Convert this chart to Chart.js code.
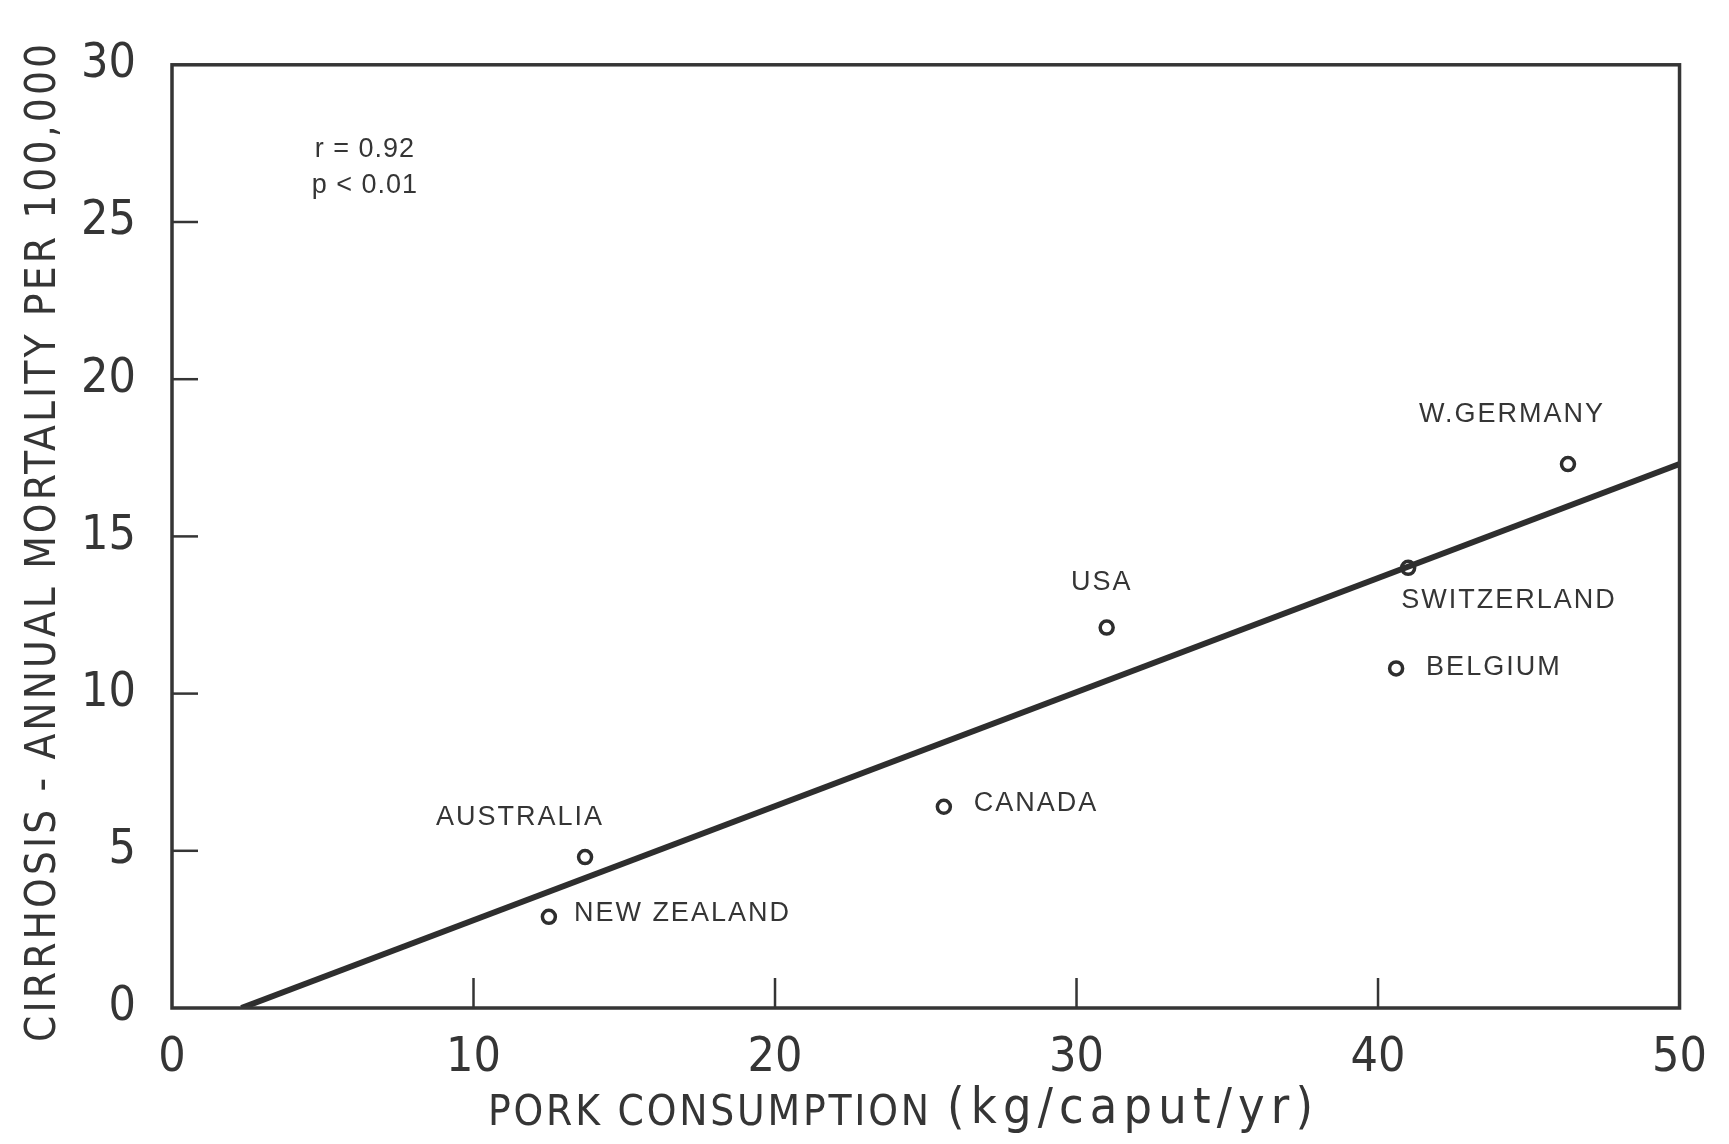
<!DOCTYPE html>
<html>
<head>
<meta charset="utf-8">
<script src="https://cdn.jsdelivr.net/npm/chart.js@4.4.1/dist/chart.umd.min.js"></script>
<style>
    html, body { margin: 0; padding: 0; background: #fff; }
    #wrap { width: 1729px; height: 1144px; }
</style>
</head>
<body>
<div id="wrap"><canvas id="porkChart"></canvas></div>
<script>
const countries = ["AUSTRALIA", "NEW ZEALAND", "CANADA", "USA", "SWITZERLAND", "BELGIUM", "W.GERMANY"];
const porkKg = [13.7, 12.5, 25.6, 31.0, 41.0, 40.6, 46.3];
const cirrhosisRate = [4.8, 2.9, 6.4, 12.1, 14.0, 10.8, 17.3];
const fitLineX = [2.3, 50];
const fitLineY = [0, 17.3];
const xTickValues = [0, 10, 20, 30, 40, 50];
const yTickValues = [0, 5, 10, 15, 20, 25, 30];
const statsLines = ["r = 0.92", "p < 0.01"];
const statsAt = { x: 6.4, y: 27.3 };
const xTitleParts = ["PORK CONSUMPTION", "(kg/caput/yr)"];
const yTitle = "CIRRHOSIS - ANNUAL MORTALITY PER 100,000";

// where each country label sits relative to its point (px)
const labelOffsets = [
    { dx: -65, dy: -40, align: "center" },
    { dx: 25, dy: -3, align: "left" },
    { dx: 30, dy: -3, align: "left" },
    { dx: -5, dy: -45, align: "center" },
    { dx: -7, dy: 33, align: "left" },
    { dx: 30, dy: -1, align: "left" },
    { dx: -56, dy: -50, align: "center" },
];

const ink = "#353535";
const narrow = "'DejaVu Sans Condensed', 'Liberation Sans Narrow', 'Liberation Sans', sans-serif";
const plain = "'Liberation Sans', 'DejaVu Sans', sans-serif";

// draw text spread out so it fills a given width
function spreadText(ctx, text, x, y, width) {
    ctx.letterSpacing = "0px";
    const natural = ctx.measureText(text).width;
    const gap = Math.max(0, (width - natural) / (text.length - 1));
    ctx.letterSpacing = gap.toFixed(2) + "px";
    ctx.fillText(text, x, y);
    ctx.letterSpacing = "0px";
}

const chartFrame = {
    id: "chartFrame",
    afterDatasetsDraw(chart) {
        const { ctx, chartArea: area, scales } = chart;
        ctx.save();

        // box round the plot
        ctx.strokeStyle = ink;
        ctx.lineWidth = 3.5;
        ctx.strokeRect(area.left, area.top, area.right - area.left, area.bottom - area.top);

        // inward ticks
        ctx.lineWidth = 2.5;
        yTickValues.slice(1, -1).forEach((v) => {
            const y = scales.y.getPixelForValue(v);
            ctx.beginPath();
            ctx.moveTo(area.left, y);
            ctx.lineTo(area.left + 26, y);
            ctx.stroke();
        });
        xTickValues.slice(1, -1).forEach((v) => {
            const x = scales.x.getPixelForValue(v);
            ctx.beginPath();
            ctx.moveTo(x, area.bottom);
            ctx.lineTo(x, area.bottom - 30);
            ctx.stroke();
        });

        // country names
        ctx.fillStyle = ink;
        ctx.font = "27px " + plain;
        ctx.letterSpacing = "2px";
        ctx.textBaseline = "middle";
        const meta = chart.getDatasetMeta(1);
        meta.data.forEach((pt, i) => {
            const off = labelOffsets[i];
            ctx.textAlign = off.align;
            ctx.fillText(countries[i], pt.x + off.dx, pt.y + off.dy);
        });

        // r and p
        ctx.letterSpacing = "1px";
        ctx.font = "27px " + plain;
        ctx.textAlign = "center";
        const sx = scales.x.getPixelForValue(statsAt.x);
        const sy = scales.y.getPixelForValue(statsAt.y);
        statsLines.forEach((line, i) => {
            ctx.fillText(line, sx, sy + i * 36);
        });

        // axis titles
        ctx.textAlign = "left";
        ctx.font = "42px " + narrow;
        spreadText(ctx, xTitleParts[0], 488, 1114, 441);
        ctx.font = "50px " + narrow;
        spreadText(ctx, xTitleParts[1], 947, 1110, 366);

        ctx.save();
        ctx.translate(44, 543);
        ctx.rotate(-Math.PI / 2);
        ctx.font = "42px " + narrow;
        ctx.textAlign = "left";
        spreadText(ctx, yTitle, -499, 0, 998);
        ctx.restore();

        ctx.restore();
    },
};

new Chart(document.getElementById("porkChart"), {
    type: "scatter",
    data: {
        datasets: [
            {
                type: "line",
                label: "Fit",
                data: fitLineX.map((x, i) => ({ x, y: fitLineY[i] })),
                borderColor: "#2e2e2e",
                borderWidth: 6,
                pointRadius: 0,
                fill: false,
            },
            {
                label: "Countries",
                data: porkKg.map((x, i) => ({ x, y: cirrhosisRate[i] })),
                pointStyle: "circle",
                pointRadius: 6.5,
                pointBorderWidth: 3.5,
                pointBorderColor: "#2e2e2e",
                pointBackgroundColor: "#ffffff",
            },
        ],
    },
    options: {
        responsive: true,
        maintainAspectRatio: false,
        animation: false,
        layout: { padding: { left: 0, right: 44, top: 41, bottom: 0 } },
        plugins: {
            legend: { display: false },
            tooltip: { enabled: false },
        },
        scales: {
            x: {
                type: "linear",
                min: 0,
                max: 50,
                afterBuildTicks: (scale) => {
                    scale.ticks = xTickValues.map((value) => ({ value }));
                },
                afterFit: (scale) => {
                    scale.height = 136;
                },
                grid: { display: false, drawTicks: false },
                border: { display: false },
                ticks: {
                    color: ink,
                    padding: 22,
                    font: { family: narrow, size: 48 },
                },
            },
            y: {
                type: "linear",
                min: 0,
                max: 30,
                afterBuildTicks: (scale) => {
                    scale.ticks = yTickValues.map((value) => ({ value }));
                },
                afterFit: (scale) => {
                    scale.width = 172;
                },
                grid: { display: false, drawTicks: false },
                border: { display: false },
                ticks: {
                    color: ink,
                    padding: 36,
                    font: { family: narrow, size: 48 },
                },
            },
        },
    },
    plugins: [chartFrame],
});
</script>
</body>
</html>
